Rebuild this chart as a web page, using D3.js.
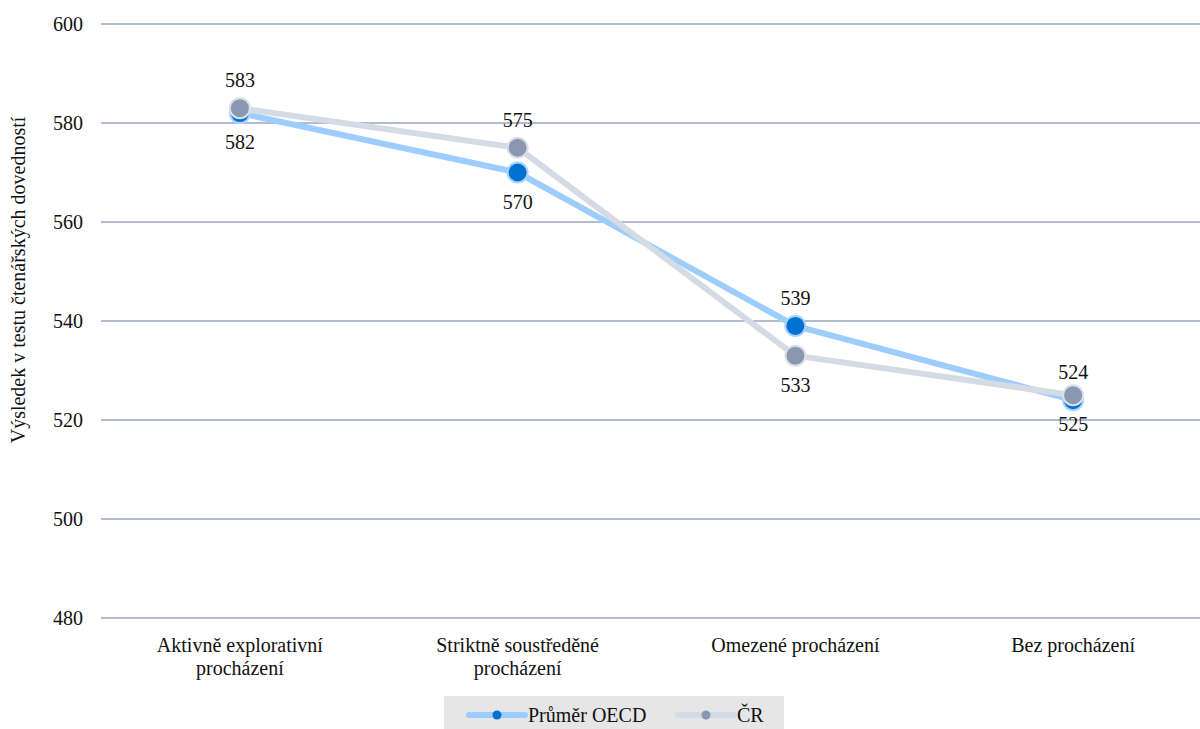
<!DOCTYPE html>
<html>
<head>
<meta charset="utf-8">
<script src="https://cdn.jsdelivr.net/npm/d3@7"></script>
<style>
  html, body { margin: 0; padding: 0; background: #fff; }
  #fig text, #fig tspan { font-family: "Liberation Serif", "Times New Roman", Tinos !important; }
</style>
</head>
<body>
<svg id="fig" width="1200" height="729"></svg>
<script>
// Categories (two-line labels) and series values
const categories = [
  ["Aktivně explorativní", "procházení"],
  ["Striktně soustředěné", "procházení"],
  ["Omezené procházení"],
  ["Bez procházení"]
];
const oecdValues = [582, 570, 539, 524];
const crValues = [583, 575, 533, 525];
// Where each value label sits relative to its point
const oecdLabelPos = ["below", "below", "above", "above"];
const crLabelPos = ["above", "above", "below", "below"];
const yTicks = [480, 500, 520, 540, 560, 580, 600];
const axisTitle = "Výsledek v testu čtenářských dovedností";
const seriesNames = ["Průměr OECD", "ČR"];

const FONT = "'Liberation Serif', 'Times New Roman', Tinos";
const FS = 20;

const svg = d3.select("#fig");
const W = 1200;

// Serif font on every text node
function styleText(sel) {
  return sel.style("font-family", FONT, "important");
}

const x = d3.scalePoint()
  .domain(d3.range(categories.length))
  .range([101, 1212])
  .padding(0.5);
const y = d3.scaleLinear().domain([480, 600]).range([618, 24]);

// Horizontal gridlines
svg.append("g")
  .selectAll("line")
  .data(yTicks)
  .join("line")
  .attr("x1", 101).attr("x2", W)
  .attr("y1", d => y(d)).attr("y2", d => y(d))
  .attr("stroke", "#97a6c0")
  .attr("stroke-width", 1.3);

// Y axis tick labels
const yAxis = d3.axisLeft(y).tickValues(yTicks).tickSize(0).tickPadding(0);
const gy = svg.append("g").attr("transform", "translate(83,0)").call(yAxis);
gy.attr("font-family", "Liberation Serif").attr("font-size", FS);
gy.select(".domain").remove();
styleText(gy.selectAll("text").attr("fill", "#111"));

// Axis title
styleText(svg.append("text")
  .attr("transform", "translate(25,280) rotate(-90)")
  .attr("text-anchor", "middle")
  .attr("font-size", FS)
  .attr("fill", "#111")
  .text(axisTitle));

// Category labels
const cat = svg.append("g");
categories.forEach((lines, i) => {
  const t = styleText(cat.append("text")
    .attr("text-anchor", "middle")
    .attr("font-size", FS)
    .attr("fill", "#111"));
  lines.forEach((ln, j) => {
    t.append("tspan")
      .attr("x", x(i))
      .attr("y", 652 + j * 23)
      .text(ln);
  });
});

const series = [
  { name: seriesNames[0], values: oecdValues, pos: oecdLabelPos,
    line: "#9dcdfd", fill: "#0171d1", stroke: "#a9d3fd" },
  { name: seriesNames[1], values: crValues, pos: crLabelPos,
    line: "#d5dbe4", fill: "#8a97b0", stroke: "#dbe0e7" }
];

const lineGen = d3.line()
  .x((d, i) => x(i))
  .y(d => y(d));

series.forEach(s => {
  const g = svg.append("g");
  g.append("path")
    .datum(s.values)
    .attr("d", lineGen)
    .attr("fill", "none")
    .attr("stroke", s.line)
    .attr("stroke-width", 6)
    .attr("stroke-linejoin", "round");
  g.selectAll("circle")
    .data(s.values)
    .join("circle")
    .attr("cx", (d, i) => x(i))
    .attr("cy", d => y(d))
    .attr("r", 10)
    .attr("fill", s.fill)
    .attr("stroke", s.stroke)
    .attr("stroke-width", 2);
});

// Value labels
series.forEach(s => {
  styleText(svg.append("g")
    .selectAll("text")
    .data(s.values)
    .join("text")
    .attr("x", (d, i) => x(i))
    .attr("y", (d, i) => y(d) + (s.pos[i] === "above" ? -28 : 29))
    .attr("dy", "0.35em")
    .attr("text-anchor", "middle")
    .attr("font-size", FS)
    .attr("fill", "#111")
    .text(d => d));
});

// Legend
const legend = svg.append("g");
legend.append("rect")
  .attr("x", 444).attr("y", 696)
  .attr("width", 340).attr("height", 33)
  .attr("fill", "#e6e6e6");
const legendItems = [
  { s: series[0], x0: 469, tx: 528 },
  { s: series[1], x0: 678, tx: 737 }
];
legendItems.forEach(it => {
  const ly = 715;
  legend.append("line")
    .attr("x1", it.x0).attr("x2", it.x0 + 56)
    .attr("y1", ly).attr("y2", ly)
    .attr("stroke", it.s.line)
    .attr("stroke-width", 6)
    .attr("stroke-linecap", "round");
  legend.append("circle")
    .attr("cx", it.x0 + 28).attr("cy", ly)
    .attr("r", 4.5)
    .attr("fill", it.s.fill);
  styleText(legend.append("text")
    .attr("x", it.tx).attr("y", ly)
    .attr("dy", "0.35em")
    .attr("font-size", FS)
    .attr("fill", "#111")
    .text(it.s.name));
});
</script>
</body>
</html>
